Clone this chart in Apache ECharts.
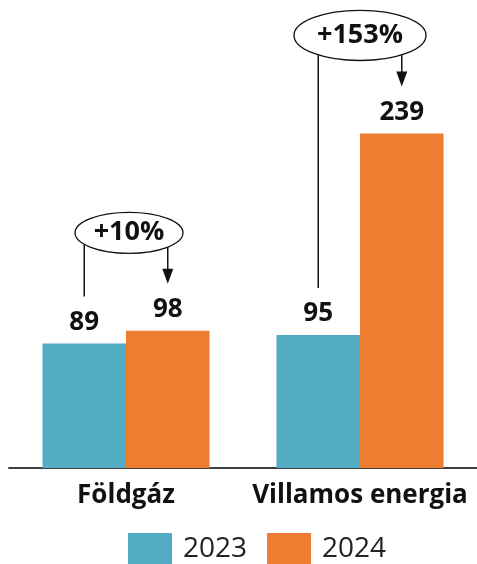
<!DOCTYPE html>
<html>
<head>
<meta charset="utf-8">
<script src="https://cdn.jsdelivr.net/npm/echarts@6/dist/echarts.min.js"></script>
<style>
html,body{margin:0;padding:0;background:#fff;}
#main{width:477px;height:564px;}
</style>
</head>
<body>
<div id="main"></div>
<script>
const categories = ['Földgáz', 'Villamos energia'];
const seriesNames = ['2023', '2024'];
const values2023 = [89, 95];
const values2024 = [98, 239];
const changeLabels = ['+10%', '+153%'];

const FONT = 'Open Sans';
const TEAL = '#52ACC3';
const ORANGE = '#ED7D31';

const chart = echarts.init(document.getElementById('main'), null, {renderer: 'canvas'});

const labelCfg = {
  show: true,
  position: 'top',
  distance: 8,
  fontFamily: FONT,
  fontWeight: 'bold',
  fontSize: 26,
  color: '#111'
};

chart.setOption({
  animation: false,
  backgroundColor: '#fff',
  grid: {left: 9, width: 471, top: 132, bottom: 96, containLabel: false},
  xAxis: {
    type: 'category',
    data: categories,
    axisLine: {show: true, lineStyle: {color: '#404040', width: 2}},
    axisTick: {show: false},
    axisLabel: {interval: 0, hideOverlap: false, fontFamily: FONT, fontWeight: 'bold', fontSize: 26, color: '#111', margin: 15}
  },
  yAxis: {type: 'value', min: 0, max: 240, show: false, splitLine: {show: false}},
  legend: {
    left: 123, top: 528,
    itemWidth: 44, itemHeight: 32, itemGap: 20,
    icon: 'rect',
    textStyle: {fontFamily: FONT, fontSize: 28, color: '#222', padding: [0, 0, 0, 6]},
    data: seriesNames
  },
  series: [
    {name: seriesNames[0], type: 'bar', data: values2023, barGap: '0%', barCategoryGap: '28.6%',
     itemStyle: {color: TEAL}, label: labelCfg},
    {name: seriesNames[1], type: 'bar', data: values2024, barGap: '0%', barCategoryGap: '28.6%',
     itemStyle: {color: ORANGE}, label: labelCfg}
  ]
});

function barGeom(seriesIndex, i) {
  const l = chart.getModel().getSeriesByIndex(seriesIndex).getData().getItemLayout(i);
  return {cx: l.x + l.width / 2, top: Math.min(l.y, l.y + l.height), left: Math.min(l.x, l.x + l.width), right: Math.max(l.x, l.x + l.width)};
}

const elements = [];
categories.forEach((c, i) => {
  const a = barGeom(0, i);
  const b = barGeom(1, i);
  const lowTop = Math.max(a.top, b.top);
  const highTop = Math.min(a.top, b.top);
  const ex = (a.left + b.right) / 2 + (i === 0 ? 3 : 0);
  const ey = highTop - 98;
  const txt = changeLabels[i];
  const rx = 12 * txt.length + 6;
  const ry = rx * 0.38;
  const lineStyle = {stroke: '#111', lineWidth: 1.5};
  elements.push({type: 'line', z: 10, shape: {x1: a.cx, y1: ey, x2: a.cx, y2: lowTop - 47}, style: lineStyle});
  const tipY = highTop - 47;
  elements.push({type: 'line', z: 10, shape: {x1: b.cx, y1: ey, x2: b.cx, y2: tipY - 10}, style: lineStyle});
  elements.push({type: 'polygon', z: 10, shape: {points: [[b.cx - 5.5, tipY - 15], [b.cx + 5.5, tipY - 15], [b.cx, tipY]]}, style: {fill: '#111'}});
  elements.push({type: 'ellipse', z: 11, shape: {cx: ex, cy: ey, rx: rx, ry: ry}, style: {fill: '#fff', stroke: '#111', lineWidth: 1.3}});
  elements.push({type: 'text', z: 12, x: ex, y: ey, style: {text: txt, fontFamily: FONT, fontWeight: 'bold', fontSize: 27, fill: '#111', align: 'center', verticalAlign: 'middle'}});
});

chart.setOption({graphic: {elements: elements}});
</script>
</body>
</html>
